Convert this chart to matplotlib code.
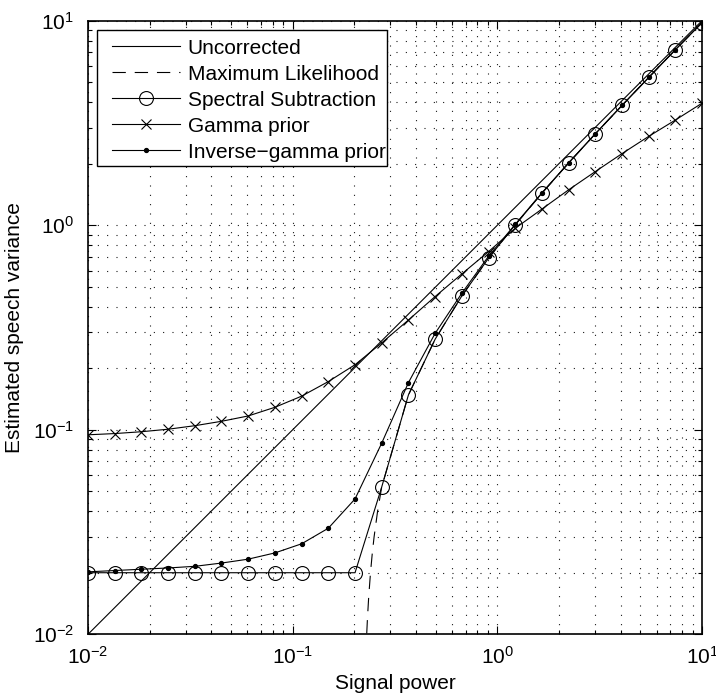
import matplotlib
matplotlib.use("Agg")
import matplotlib.pyplot as plt
from matplotlib.ticker import LogLocator, NullFormatter
from matplotlib.patches import Rectangle

plt.rcParams['font.family'] = ['Liberation Sans', 'DejaVu Sans']
plt.rcParams['mathtext.fontset'] = 'custom'
plt.rcParams['mathtext.rm'] = 'Liberation Sans'
plt.rcParams['mathtext.it'] = 'Liberation Sans:italic'

# signal power grid (marker positions)
signal_power = [0.0100, 0.0135, 0.0182, 0.0246, 0.0333, 0.0449, 0.0606, 0.0819,
                0.1106, 0.1493, 0.2017, 0.2723, 0.3678, 0.4966, 0.6707, 0.9057,
                1.223, 1.652, 2.230, 3.012, 4.067, 5.492, 7.417, 10.0]

uncorrected = [0.0100, 0.0135, 0.0182, 0.0246, 0.0333, 0.0449, 0.0606, 0.0819,
               0.1106, 0.1493, 0.2017, 0.2723, 0.3678, 0.4966, 0.6707, 0.9057,
               1.223, 1.652, 2.230, 3.012, 4.067, 5.492, 7.417, 10.0]

spectral_sub = [0.020, 0.020, 0.020, 0.020, 0.020, 0.020, 0.020, 0.020,
                0.020, 0.020, 0.020, 0.0525, 0.148, 0.277, 0.451, 0.690,
                1.005, 1.435, 2.015, 2.80, 3.85, 5.28, 7.22, 9.78]

gamma_prior = [0.0945, 0.0958, 0.0978, 0.1006, 0.1047, 0.110, 0.1168, 0.1288,
               0.146, 0.172, 0.208, 0.266, 0.344, 0.448, 0.578, 0.743,
               0.966, 1.20, 1.49, 1.83, 2.24, 2.72, 3.27, 3.95]

inv_gamma_prior = [0.0202, 0.0205, 0.0208, 0.0211, 0.0215, 0.0223, 0.0233, 0.0250,
                   0.0277, 0.0330, 0.0459, 0.086, 0.170, 0.296, 0.465, 0.705,
                   1.01, 1.44, 2.02, 2.80, 3.86, 5.28, 7.22, 9.79]

# maximum likelihood (finer sampling near the cut-off)
ml_power = [0.2301, 0.232, 0.235, 0.240, 0.245, 0.250, 0.260, 0.2723, 0.3678,
            0.4966, 0.6707, 0.9057, 1.223, 1.652, 2.230, 3.012, 4.067, 5.492,
            7.417, 10.0]
ml_var = [0.0101, 0.012, 0.015, 0.020, 0.025, 0.030, 0.040, 0.0525, 0.148,
          0.277, 0.451, 0.690, 1.005, 1.435, 2.015, 2.80, 3.85, 5.28,
          7.22, 9.78]

labels = ['Uncorrected', 'Maximum Likelihood', 'Spectral Subtraction',
          'Gamma prior', 'Inverse\u2212gamma prior']

W, H = 716, 700
fig = plt.figure(figsize=(W / 100, H / 100), dpi=100)
ax_l, ax_t, ax_r, ax_b = 88, 20.7, 702, 634.3
ax = fig.add_axes([ax_l / W, 1 - ax_b / H, (ax_r - ax_l) / W, (ax_b - ax_t) / H])

lw = 0.8
ax.plot(signal_power, uncorrected, '-', color='black', lw=lw, label=labels[0])
ax.plot(ml_power, ml_var, '--', color='black', lw=lw, dashes=(12, 8), label=labels[1])
ax.plot(signal_power, spectral_sub, '-', color='black', lw=lw, marker='o',
        ms=10, mfc='none', mec='black', mew=lw, label=labels[2])
ax.plot(signal_power, gamma_prior, '-', color='black', lw=lw, marker='x',
        ms=7, mew=lw, label=labels[3])
ax.plot(signal_power, inv_gamma_prior, '-', color='black', lw=lw, marker='o',
        ms=2.8, mfc='black', mec='black', label=labels[4])

ax.set_xscale('log')
ax.set_yscale('log')
ax.set_xlim(0.01, 10)
ax.set_ylim(0.01, 10)

for a in (ax.xaxis, ax.yaxis):
    a.set_major_locator(LogLocator(base=10, numticks=10))
    a.set_minor_locator(LogLocator(base=10, subs=range(2, 10), numticks=20))
    a.set_minor_formatter(NullFormatter())

ax.grid(True, which='both', color='black', linestyle=(0, (0.9, 7.5)), lw=0.8)
ax.set_axisbelow(True)

ax.tick_params(which='both', direction='in', top=True, right=True,
               labelsize=15, width=0.8)
ax.tick_params(which='major', length=6)
ax.tick_params(axis='x', which='major', pad=8)
ax.tick_params(axis='y', which='major', pad=10)
ax.tick_params(which='minor', length=3)
for s in ax.spines.values():
    s.set_linewidth(1.2)

ax.set_xlabel('Signal power', fontsize=15, labelpad=5)
ax.set_ylabel('Estimated speech variance', fontsize=15, labelpad=6)

# legend frame (pixel box 97..387 x 30..166)
fx0, fx1, fy0, fy1 = 97, 387, 30, 166
frame = Rectangle(((fx0 - ax_l) / (ax_r - ax_l), (ax_b - fy1) / (ax_b - ax_t)),
                  (fx1 - fx0) / (ax_r - ax_l), (fy1 - fy0) / (ax_b - ax_t),
                  transform=ax.transAxes, facecolor='white', edgecolor='black',
                  lw=1.0, zorder=4)
ax.add_patch(frame)

fs_px = 15 * 100 / 72.0


def make_legend(spacing, top_px):
    lg = ax.legend(loc='upper left',
                   bbox_to_anchor=(111.7 / W, 1 - top_px / H),
                   bbox_transform=fig.transFigure,
                   borderaxespad=0, borderpad=0, fontsize=15,
                   handlelength=68 / fs_px, handletextpad=8 / fs_px,
                   labelspacing=spacing, frameon=False)
    lg.set_zorder(5)
    return lg


leg = make_legend(0.0, 36)
fig.canvas.draw()
h0 = leg.get_window_extent().height
row_h = h0 / 5.0
spacing = max((26.0 - row_h) / fs_px, 0.0)
leg.remove()
leg = make_legend(spacing, 48 - row_h / 2.0)

fig.savefig('out.png', dpi=100)
